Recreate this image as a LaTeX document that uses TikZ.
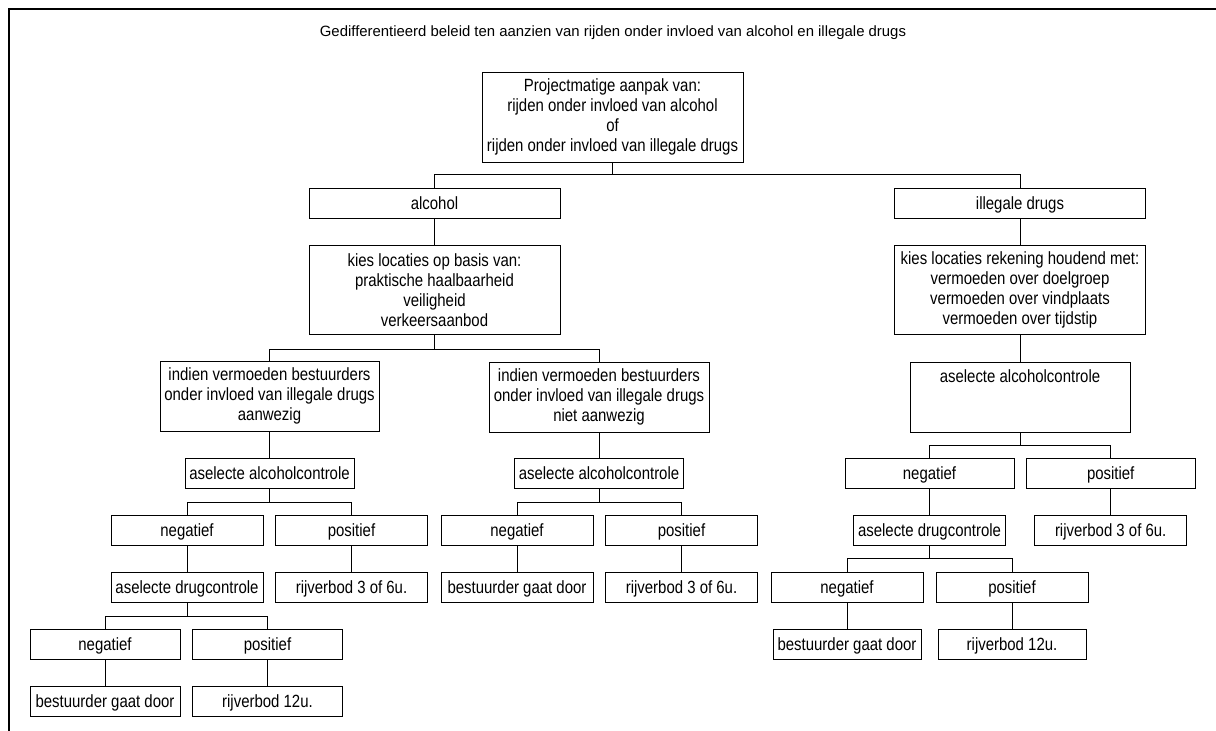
\documentclass[tikz,border=0pt]{standalone}
\usepackage{fontspec}
\setmainfont{Liberation Sans}[FakeStretch=0.845]
\newfontfamily\titlefont{Liberation Sans}
\newcommand{\boxfont}{\fontsize{17.7}{20}\selectfont}
\begin{document}
\begin{tikzpicture}[x=1pt,y=-1pt,line width=0.8pt]

        \useasboundingbox (0,0) rectangle (1216,731);
        \draw[line width=2pt] (1216,8.5) -- (8.5,8.5) -- (8.5,731);
        \node[font=\titlefont\fontsize{14.9}{18}\selectfont] (title) at (613,33) {Gedifferentieerd beleid ten aanzien van rijden onder invloed van alcohol en illegale drugs};

        \begin{scope}[every node/.style={draw,align=center,inner sep=0pt,minimum height=30pt,text height=14pt,text depth=2pt,font=\boxfont},
                      multi/.style={text height={},text depth={}}]
          \node[multi,minimum width=261pt,minimum height=90pt] (root) at (612.5,117) {Projectmatige aanpak van:\\rijden onder invloed van alcohol\\of\\rijden onder invloed van illegale drugs};
          \node[minimum width=251pt] (alc)  at (434.5,203) {alcohol};
          \node[minimum width=251pt] (drg)  at (1020,203)  {illegale drugs};
          \node[multi,minimum width=251pt,minimum height=89pt] (kiesA) at (434.5,290) {kies locaties op basis van:\\praktische haalbaarheid\\veiligheid\\verkeersaanbod};
          \node[multi,minimum width=251pt,minimum height=89pt] (kiesD) at (1020,290) {kies locaties rekening houdend met:\\vermoeden over doelgroep\\vermoeden over vindplaats\\vermoeden over tijdstip};

          % alcohol, drugs aanwezig
          \node[multi,minimum width=219pt,minimum height=70pt] (indA) at (269.5,396) {indien vermoeden bestuurders\\onder invloed van illegale drugs\\aanwezig};
          \node[minimum width=169pt] (aacA)  at (269.5,473) {aselecte alcoholcontrole};
          \node[minimum width=152pt] (negA)  at (187,530)   {negatief};
          \node[minimum width=152pt] (posA)  at (351.5,530) {positief};
          \node[minimum width=152pt] (adcA)  at (187,587)   {aselecte drugcontrole};
          \node[minimum width=152pt] (rvA)   at (351.5,587) {rijverbod 3 of 6u.};
          \node[minimum width=150pt] (negA2) at (105,644)   {negatief};
          \node[minimum width=150pt] (posA2) at (267.5,644) {positief};
          \node[minimum width=150pt] (bgdA)  at (105,701)   {bestuurder gaat door};
          \node[minimum width=150pt] (r12A)  at (267.5,701) {rijverbod 12u.};

          % alcohol, drugs niet aanwezig
          \node[multi,minimum width=220pt,minimum height=70pt] (indN) at (599,397) {indien vermoeden bestuurders\\onder invloed van illegale drugs\\niet aanwezig};
          \node[minimum width=169pt] (aacN) at (599,473)   {aselecte alcoholcontrole};
          \node[minimum width=152pt] (negN) at (517,530)   {negatief};
          \node[minimum width=152pt] (posN) at (681.5,530) {positief};
          \node[minimum width=152pt] (bgdN) at (517,587)   {bestuurder gaat door};
          \node[minimum width=152pt] (rvN)  at (681.5,587) {rijverbod 3 of 6u.};

          % illegale drugs
          \node[minimum width=220pt,text height=15pt,text depth=45pt,inner ysep=5pt] (aacD) at (1020,397) {aselecte alcoholcontrole};
          \node[minimum width=169pt] (negD)  at (929.5,473)  {negatief};
          \node[minimum width=169pt] (posD)  at (1110.7,473) {positief};
          \node[minimum width=152pt] (adcD)  at (929.5,530)  {aselecte drugcontrole};
          \node[minimum width=152pt] (rvD)   at (1110.7,530) {rijverbod 3 of 6u.};
          \node[minimum width=152pt] (negD2) at (847,587)    {negatief};
          \node[minimum width=152pt] (posD2) at (1012,587)   {positief};
          \node[minimum width=148pt] (bgdD)  at (847,644)    {bestuurder gaat door};
          \node[minimum width=148pt] (r12D)  at (1012,644)   {rijverbod 12u.};
        \end{scope}

        \begin{scope}[every edge/.style={draw}]
          \path (alc)   edge (kiesA);
          \path (drg)   edge (kiesD);
          \path (kiesD) edge (aacD);
          \path (indA)  edge (aacA);
          \path (indN)  edge (aacN);
          \path (negA)  edge (adcA);
          \path (posA)  edge (rvA);
          \path (negN)  edge (bgdN);
          \path (posN)  edge (rvN);
          \path (negD)  edge (adcD);
          \path (posD)  edge (rvD);
          \path (negA2) edge (bgdA);
          \path (posA2) edge (r12A);
          \path (negD2) edge (bgdD);
          \path (posD2) edge (r12D);
        \end{scope}

        \foreach \p/\c/\h in {root/alc/12, root/drg/12, kiesA/indA/14, kiesA/indN/14,
                              aacA/negA/14, aacA/posA/14, aacN/negN/14, aacN/posN/14,
                              aacD/negD/13, aacD/posD/13, adcA/negA2/14, adcA/posA2/14,
                              adcD/negD2/13, adcD/posD2/13}
          \draw (\p.south) -- ++(0,\h) -| (\c.north);

      \end{tikzpicture}
\end{document}
